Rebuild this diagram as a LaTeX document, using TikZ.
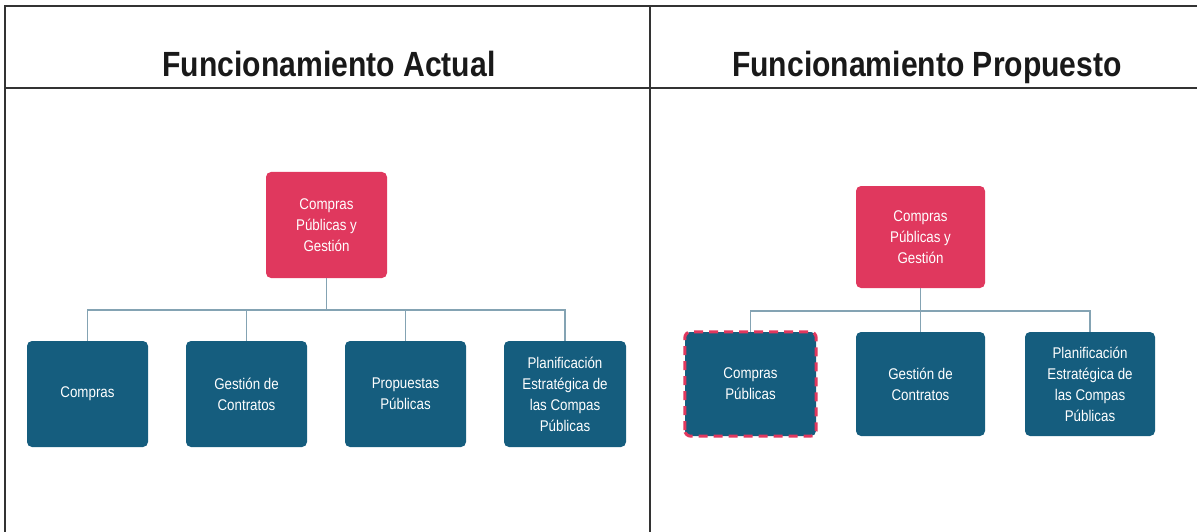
\documentclass[tikz,border=0pt]{standalone}
\usepackage{fontspec}
\setmainfont{Liberation Sans}[FakeStretch=0.86]
\begin{document}
\begin{tikzpicture}[x=1pt,y=-1pt,
  frame/.style={line width=1.5pt,draw=black!80},
  head/.style={font=\fontsize{35}{40}\selectfont\bfseries,text=black!90,anchor=base},
  topbox/.style={rectangle,rounded corners=5pt,fill=boxpink,text=white,align=center,
    font=\fontsize{15.5}{21}\selectfont,inner sep=0pt},
  childbox/.style={rectangle,rounded corners=5pt,fill=boxblue,text=white,align=center,
    font=\fontsize{15.5}{21}\selectfont,inner sep=0pt},
  link/.style={draw=linkc,line width=1.6pt},
  hl/.style={draw=boxpink,line width=3pt,dash pattern=on 9pt off 6pt}]
\definecolor{boxpink}{HTML}{E0385E}
\definecolor{boxblue}{HTML}{155D7E}
\definecolor{linkc}{HTML}{84A3B3}
\useasboundingbox (0,0) rectangle (1197,532);
% table frame
\coordinate (tl) at (5,6);
\coordinate (tr) at (1210,6);
\coordinate (hl) at (5,88);
\coordinate (hr) at (1210,88);
\coordinate (bl) at (5,540);
\coordinate (mt) at (650,6);
\coordinate (mb) at (650,540);
\draw[frame] (bl) -- (tl) -- (tr);
\draw[frame] (hl) -- (hr);
\draw[frame] (mt) -- (mb);
% headers
\node[head] (h1) at (329,77) {Funcionamiento Actual};
\node[head] (h2) at (927,77) {Funcionamiento Propuesto};
% left diagram
\node[topbox,minimum width=121pt,minimum height=106pt] (lt) at (326.5,225) {Compras\\Públicas y\\Gestión};
\node[childbox,minimum width=121pt,minimum height=106pt] (l1) at (87.5,394) {Compras};
\node[childbox,minimum width=121pt,minimum height=106pt] (l2) at (246.5,394) {Gestión de\\Contratos};
\node[childbox,minimum width=121pt,minimum height=106pt] (l3) at (405.5,394) {Propuestas\\Públicas};
\node[childbox,minimum width=122pt,minimum height=106pt] (l4) at (565,394) {Planificación\\Estratégica de\\las Compas\\Públicas};
\coordinate (lj) at (lt.south |- 0,310);
\draw[link] (lt.south) -- (lj);
\draw[link] (l1.north) |- (lj);
\draw[link] (l4.north) |- (lj);
\draw[link] (l2.north) -- (l2.north |- lj);
\draw[link] (l3.north) -- (l3.north |- lj);
% right diagram
\node[topbox,minimum width=129pt,minimum height=102pt] (rt) at (920.5,237) {Compras\\Públicas y\\Gestión};
\node[childbox,minimum width=131pt,minimum height=104pt] (r1) at (750.5,384) {Compras\\Públicas};
\node[childbox,minimum width=129pt,minimum height=104pt] (r2) at (920.5,384) {Gestión de\\Contratos};
\node[childbox,minimum width=130pt,minimum height=104pt] (r3) at (1090,384) {Planificación\\Estratégica de\\las Compas\\Públicas};
\coordinate (rj) at (rt.south |- 0,311);
\draw[link] (rt.south) -- (r2.north);
\draw[link] (r1.north) |- (rj);
\draw[link] (r3.north) |- (rj);
\draw[hl,rounded corners=6pt] (r1.south west) rectangle (r1.north east);
\end{tikzpicture}
\end{document}
